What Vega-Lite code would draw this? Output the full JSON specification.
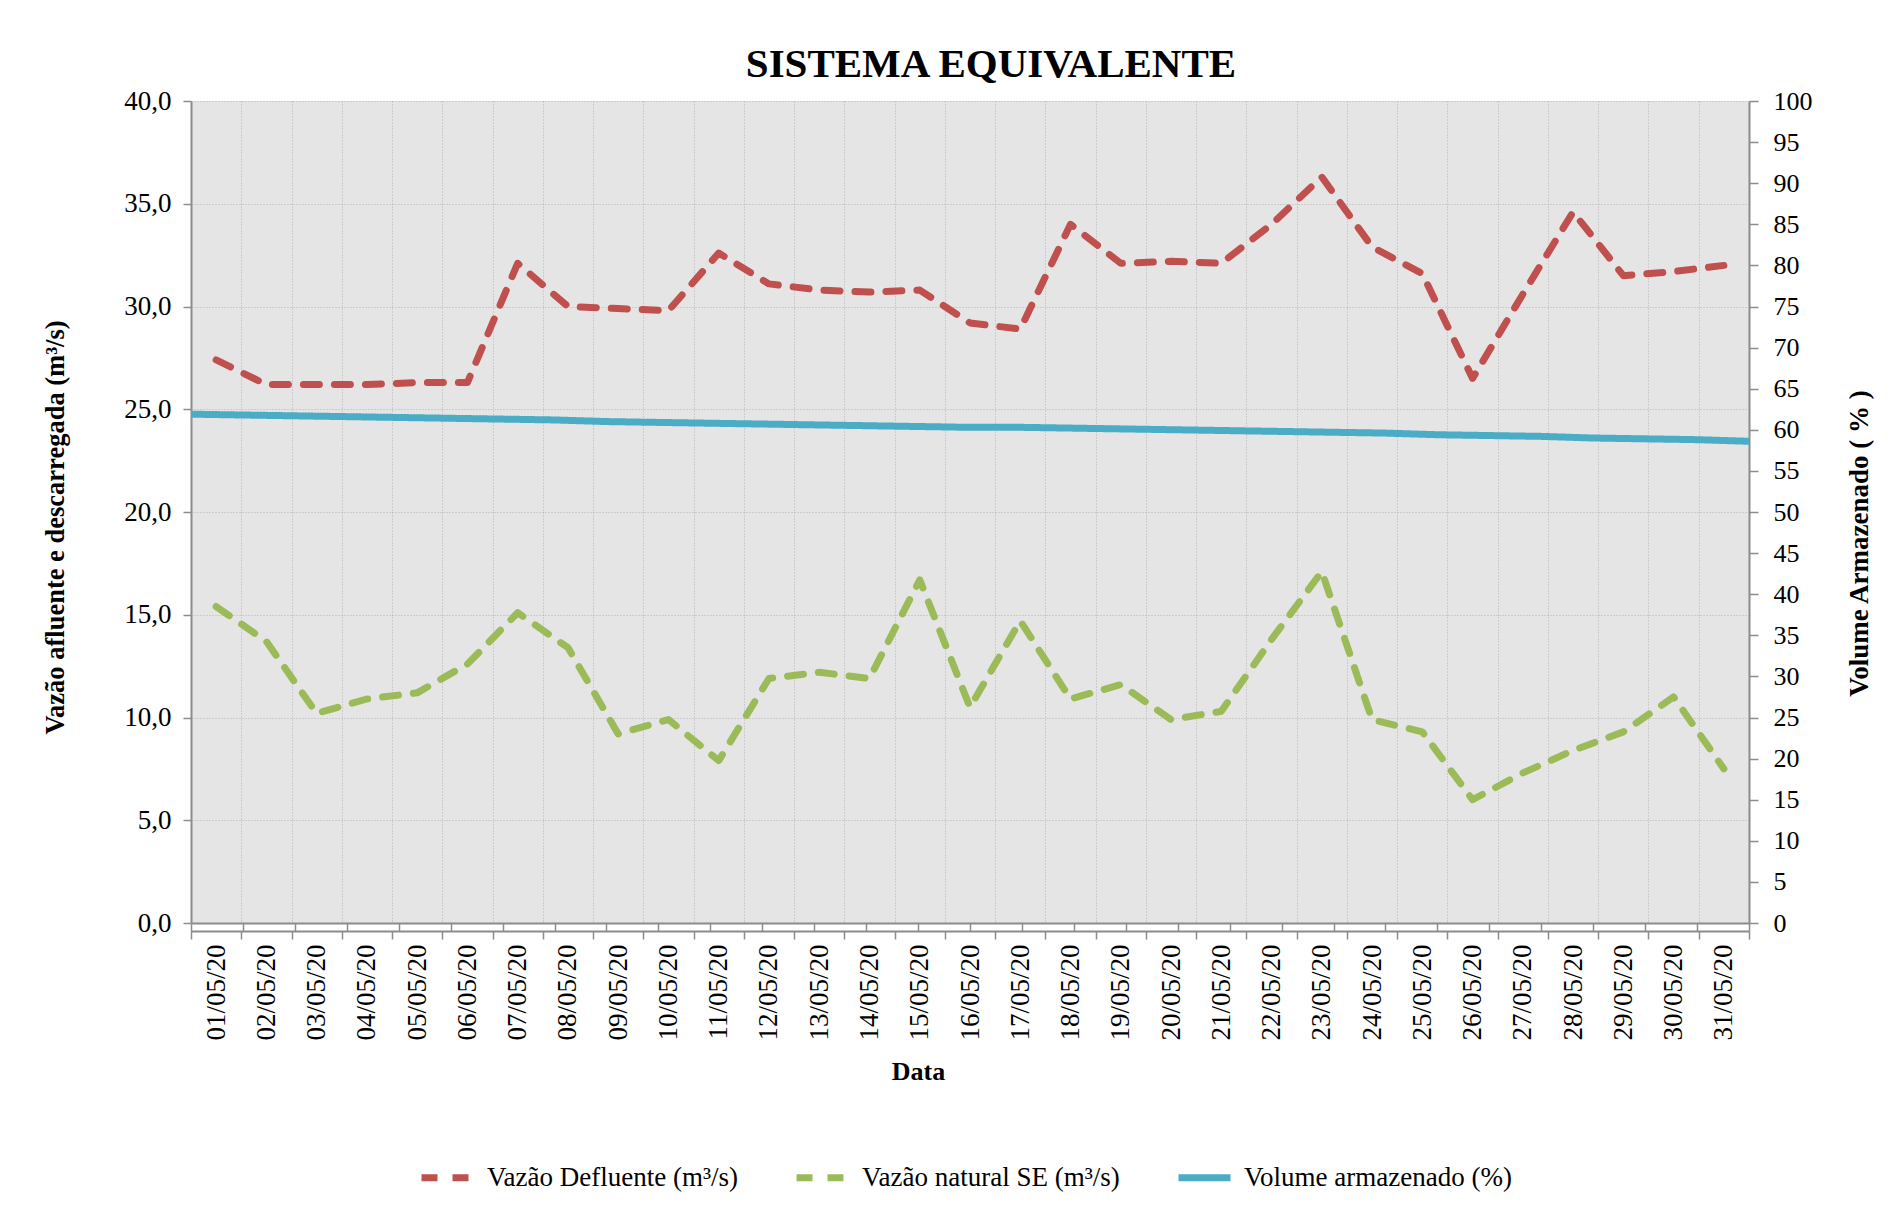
{
  "$schema": "https://vega.github.io/schema/vega-lite/v6.json",
  "width": 1558,
  "height": 822,
  "autosize": {"type": "none"},
  "padding": {"left": 191, "top": 101, "right": 150, "bottom": 286},
  "background": "white",
  "title": {
    "text": "SISTEMA EQUIVALENTE",
    "font": "Liberation Serif",
    "fontSize": 41,
    "fontWeight": "bold",
    "color": "black",
    "anchor": "middle",
    "frame": "group",
    "baseline": "alphabetic",
    "offset": -31,
    "dx": 21
  },
  "config": {
    "font": "Liberation Serif",
    "view": {"fill": "#e5e5e5", "stroke": null},
    "axis": {
      "labelFont": "Liberation Serif",
      "titleFont": "Liberation Serif",
      "labelColor": "black",
      "titleColor": "black",
      "domainColor": "#8c8c8c",
      "domainWidth": 2,
      "tickColor": "#8c8c8c",
      "tickWidth": 1.5,
      "gridColor": "#b3b3b3",
      "gridDash": [1, 2],
      "gridWidth": 1,
      "titleFontWeight": "bold"
    },
    "legend": {"labelFont": "Liberation Serif"}
  },
  "datasets": {
    "vazoes": [
      {"data": "01/05/20", "serie": "Vazão Defluente (m³/s)", "valor": 27.4},
      {"data": "02/05/20", "serie": "Vazão Defluente (m³/s)", "valor": 26.2},
      {"data": "03/05/20", "serie": "Vazão Defluente (m³/s)", "valor": 26.2},
      {"data": "04/05/20", "serie": "Vazão Defluente (m³/s)", "valor": 26.2},
      {"data": "05/05/20", "serie": "Vazão Defluente (m³/s)", "valor": 26.3},
      {"data": "06/05/20", "serie": "Vazão Defluente (m³/s)", "valor": 26.3},
      {"data": "07/05/20", "serie": "Vazão Defluente (m³/s)", "valor": 32.1},
      {"data": "08/05/20", "serie": "Vazão Defluente (m³/s)", "valor": 30.0},
      {"data": "09/05/20", "serie": "Vazão Defluente (m³/s)", "valor": 29.9},
      {"data": "10/05/20", "serie": "Vazão Defluente (m³/s)", "valor": 29.8},
      {"data": "11/05/20", "serie": "Vazão Defluente (m³/s)", "valor": 32.6},
      {"data": "12/05/20", "serie": "Vazão Defluente (m³/s)", "valor": 31.1},
      {"data": "13/05/20", "serie": "Vazão Defluente (m³/s)", "valor": 30.8},
      {"data": "14/05/20", "serie": "Vazão Defluente (m³/s)", "valor": 30.7},
      {"data": "15/05/20", "serie": "Vazão Defluente (m³/s)", "valor": 30.8},
      {"data": "16/05/20", "serie": "Vazão Defluente (m³/s)", "valor": 29.2},
      {"data": "17/05/20", "serie": "Vazão Defluente (m³/s)", "valor": 28.9},
      {"data": "18/05/20", "serie": "Vazão Defluente (m³/s)", "valor": 34.0},
      {"data": "19/05/20", "serie": "Vazão Defluente (m³/s)", "valor": 32.1},
      {"data": "20/05/20", "serie": "Vazão Defluente (m³/s)", "valor": 32.2},
      {"data": "21/05/20", "serie": "Vazão Defluente (m³/s)", "valor": 32.1},
      {"data": "22/05/20", "serie": "Vazão Defluente (m³/s)", "valor": 34.0},
      {"data": "23/05/20", "serie": "Vazão Defluente (m³/s)", "valor": 36.3},
      {"data": "24/05/20", "serie": "Vazão Defluente (m³/s)", "valor": 32.9},
      {"data": "25/05/20", "serie": "Vazão Defluente (m³/s)", "valor": 31.6},
      {"data": "26/05/20", "serie": "Vazão Defluente (m³/s)", "valor": 26.5},
      {"data": "27/05/20", "serie": "Vazão Defluente (m³/s)", "valor": 30.6},
      {"data": "28/05/20", "serie": "Vazão Defluente (m³/s)", "valor": 34.6},
      {"data": "29/05/20", "serie": "Vazão Defluente (m³/s)", "valor": 31.5},
      {"data": "30/05/20", "serie": "Vazão Defluente (m³/s)", "valor": 31.7},
      {"data": "31/05/20", "serie": "Vazão Defluente (m³/s)", "valor": 32.0},
      {"data": "01/05/20", "serie": "Vazão natural SE (m³/s)", "valor": 15.4},
      {"data": "02/05/20", "serie": "Vazão natural SE (m³/s)", "valor": 13.7},
      {"data": "03/05/20", "serie": "Vazão natural SE (m³/s)", "valor": 10.2},
      {"data": "04/05/20", "serie": "Vazão natural SE (m³/s)", "valor": 10.9},
      {"data": "05/05/20", "serie": "Vazão natural SE (m³/s)", "valor": 11.2},
      {"data": "06/05/20", "serie": "Vazão natural SE (m³/s)", "valor": 12.6},
      {"data": "07/05/20", "serie": "Vazão natural SE (m³/s)", "valor": 15.1},
      {"data": "08/05/20", "serie": "Vazão natural SE (m³/s)", "valor": 13.4},
      {"data": "09/05/20", "serie": "Vazão natural SE (m³/s)", "valor": 9.2},
      {"data": "10/05/20", "serie": "Vazão natural SE (m³/s)", "valor": 9.9},
      {"data": "11/05/20", "serie": "Vazão natural SE (m³/s)", "valor": 7.9},
      {"data": "12/05/20", "serie": "Vazão natural SE (m³/s)", "valor": 11.9},
      {"data": "13/05/20", "serie": "Vazão natural SE (m³/s)", "valor": 12.2},
      {"data": "14/05/20", "serie": "Vazão natural SE (m³/s)", "valor": 11.9},
      {"data": "15/05/20", "serie": "Vazão natural SE (m³/s)", "valor": 16.7},
      {"data": "16/05/20", "serie": "Vazão natural SE (m³/s)", "valor": 10.5},
      {"data": "17/05/20", "serie": "Vazão natural SE (m³/s)", "valor": 14.7},
      {"data": "18/05/20", "serie": "Vazão natural SE (m³/s)", "valor": 10.9},
      {"data": "19/05/20", "serie": "Vazão natural SE (m³/s)", "valor": 11.6},
      {"data": "20/05/20", "serie": "Vazão natural SE (m³/s)", "valor": 9.9},
      {"data": "21/05/20", "serie": "Vazão natural SE (m³/s)", "valor": 10.3},
      {"data": "22/05/20", "serie": "Vazão natural SE (m³/s)", "valor": 13.8},
      {"data": "23/05/20", "serie": "Vazão natural SE (m³/s)", "valor": 17.1},
      {"data": "24/05/20", "serie": "Vazão natural SE (m³/s)", "valor": 9.9},
      {"data": "25/05/20", "serie": "Vazão natural SE (m³/s)", "valor": 9.3},
      {"data": "26/05/20", "serie": "Vazão natural SE (m³/s)", "valor": 6.0},
      {"data": "27/05/20", "serie": "Vazão natural SE (m³/s)", "valor": 7.3},
      {"data": "28/05/20", "serie": "Vazão natural SE (m³/s)", "valor": 8.4},
      {"data": "29/05/20", "serie": "Vazão natural SE (m³/s)", "valor": 9.3},
      {"data": "30/05/20", "serie": "Vazão natural SE (m³/s)", "valor": 11.0},
      {"data": "31/05/20", "serie": "Vazão natural SE (m³/s)", "valor": 7.5}
    ],
    "volume": [
      {"data": "01/05/20", "serie": "Volume armazenado (%)", "valor": 61.9},
      {"data": "02/05/20", "serie": "Volume armazenado (%)", "valor": 61.8},
      {"data": "03/05/20", "serie": "Volume armazenado (%)", "valor": 61.7},
      {"data": "04/05/20", "serie": "Volume armazenado (%)", "valor": 61.6},
      {"data": "05/05/20", "serie": "Volume armazenado (%)", "valor": 61.5},
      {"data": "06/05/20", "serie": "Volume armazenado (%)", "valor": 61.4},
      {"data": "07/05/20", "serie": "Volume armazenado (%)", "valor": 61.3},
      {"data": "08/05/20", "serie": "Volume armazenado (%)", "valor": 61.2},
      {"data": "09/05/20", "serie": "Volume armazenado (%)", "valor": 61.0},
      {"data": "10/05/20", "serie": "Volume armazenado (%)", "valor": 60.9},
      {"data": "11/05/20", "serie": "Volume armazenado (%)", "valor": 60.8},
      {"data": "12/05/20", "serie": "Volume armazenado (%)", "valor": 60.7},
      {"data": "13/05/20", "serie": "Volume armazenado (%)", "valor": 60.6},
      {"data": "14/05/20", "serie": "Volume armazenado (%)", "valor": 60.5},
      {"data": "15/05/20", "serie": "Volume armazenado (%)", "valor": 60.4},
      {"data": "16/05/20", "serie": "Volume armazenado (%)", "valor": 60.3},
      {"data": "17/05/20", "serie": "Volume armazenado (%)", "valor": 60.3},
      {"data": "18/05/20", "serie": "Volume armazenado (%)", "valor": 60.2},
      {"data": "19/05/20", "serie": "Volume armazenado (%)", "valor": 60.1},
      {"data": "20/05/20", "serie": "Volume armazenado (%)", "valor": 60.0},
      {"data": "21/05/20", "serie": "Volume armazenado (%)", "valor": 59.9},
      {"data": "22/05/20", "serie": "Volume armazenado (%)", "valor": 59.8},
      {"data": "23/05/20", "serie": "Volume armazenado (%)", "valor": 59.7},
      {"data": "24/05/20", "serie": "Volume armazenado (%)", "valor": 59.6},
      {"data": "25/05/20", "serie": "Volume armazenado (%)", "valor": 59.4},
      {"data": "26/05/20", "serie": "Volume armazenado (%)", "valor": 59.3},
      {"data": "27/05/20", "serie": "Volume armazenado (%)", "valor": 59.2},
      {"data": "28/05/20", "serie": "Volume armazenado (%)", "valor": 59.0},
      {"data": "29/05/20", "serie": "Volume armazenado (%)", "valor": 58.9},
      {"data": "30/05/20", "serie": "Volume armazenado (%)", "valor": 58.8},
      {"data": "31/05/20", "serie": "Volume armazenado (%)", "valor": 58.6}
    ]
  },
  "layer": [
    {
      "data": {"name": "vazoes"},
      "mark": {"type": "line", "strokeWidth": 7, "strokeCap": "round", "strokeJoin": "round"},
      "encoding": {
        "x": {
          "field": "data",
          "type": "ordinal",
          "sort": null,
          "bandPosition": 0.5,
          "scale": {"type": "band", "paddingInner": 0, "paddingOuter": 0},
          "axis": {
            "orient": "bottom",
            "offset": 8,
            "tickBand": "extent",
            "tickSize": 8,
            "labelAngle": 270,
            "labelFontSize": 27,
            "labelPadding": 5,
            "grid": true,
            "title": "Data",
            "titleFontSize": 26,
            "titlePadding": 18,
            "titleX": 727
          }
        },
        "y": {
          "field": "valor",
          "type": "quantitative",
          "scale": {"domain": [0, 40]},
          "axis": {
            "orient": "left",
            "values": [0, 5, 10, 15, 20, 25, 30, 35, 40],
            "labelExpr": "replace(format(datum.value, '.1f'), '.', ',')",
            "labelFontSize": 27,
            "labelPadding": 12,
            "tickSize": 8,
            "grid": true,
            "title": "Vazão afluente e descarregada (m³/s)",
            "titleFontSize": 26.5,
            "titleAngle": 270,
            "titleX": -136,
            "titleY": 426,
            "titleAlign": "center",
            "titleBaseline": "middle"
          }
        },
        "color": {
          "field": "serie",
          "type": "nominal",
          "scale": {
            "domain": ["Vazão Defluente (m³/s)", "Vazão natural SE (m³/s)", "Volume armazenado (%)"],
            "range": ["#c0504d", "#9bbb59", "#4bacc6"]
          },
          "legend": {
            "title": null,
            "orient": "none",
            "legendX": 227,
            "legendY": 1047,
            "direction": "horizontal",
            "symbolType": "stroke",
            "symbolSize": 2704,
            "symbolStrokeWidth": 7,
            "labelFontSize": 27,
            "labelColor": "black",
            "labelOffset": 10,
            "columnPadding": 44,
            "labelLimit": 400
          }
        },
        "strokeDash": {
          "field": "serie",
          "type": "nominal",
          "scale": {
            "domain": ["Vazão Defluente (m³/s)", "Vazão natural SE (m³/s)", "Volume armazenado (%)"],
            "range": [[16, 15], [16, 15], [1, 0]]
          },
          "legend": {
            "title": null,
            "orient": "none",
            "legendX": 227,
            "legendY": 1047,
            "direction": "horizontal",
            "symbolType": "stroke",
            "symbolSize": 2704,
            "symbolStrokeWidth": 7,
            "labelFontSize": 27,
            "labelColor": "black",
            "labelOffset": 10,
            "columnPadding": 44,
            "labelLimit": 400
          }
        }
      }
    },
    {
      "data": {"name": "volume"},
      "mark": {"type": "line", "strokeWidth": 7},
      "encoding": {
        "x": {
          "field": "data",
          "type": "ordinal",
          "sort": null,
          "scale": {"type": "point", "padding": 0},
          "axis": {
            "orient": "bottom",
            "offset": 0,
            "labels": false,
            "tickSize": 8,
            "grid": false,
            "title": null
          }
        },
        "y": {
          "field": "valor",
          "type": "quantitative",
          "scale": {"domain": [0, 100]},
          "axis": {
            "orient": "right",
            "values": [0, 5, 10, 15, 20, 25, 30, 35, 40, 45, 50, 55, 60, 65, 70, 75, 80, 85, 90, 95, 100],
            "labelFontSize": 26,
            "labelPadding": 15,
            "tickSize": 9,
            "grid": false,
            "title": "Volume Armazenado ( % )",
            "titleFontSize": 27,
            "titleAngle": 270,
            "titleX": 110,
            "titleY": 442,
            "titleAlign": "center",
            "titleBaseline": "middle"
          }
        },
        "color": {"field": "serie", "type": "nominal"},
        "strokeDash": {"field": "serie", "type": "nominal"}
      }
    }
  ],
  "resolve": {
    "scale": {"x": "independent", "y": "independent"},
    "axis": {"x": "independent", "y": "independent"}
  }
}
